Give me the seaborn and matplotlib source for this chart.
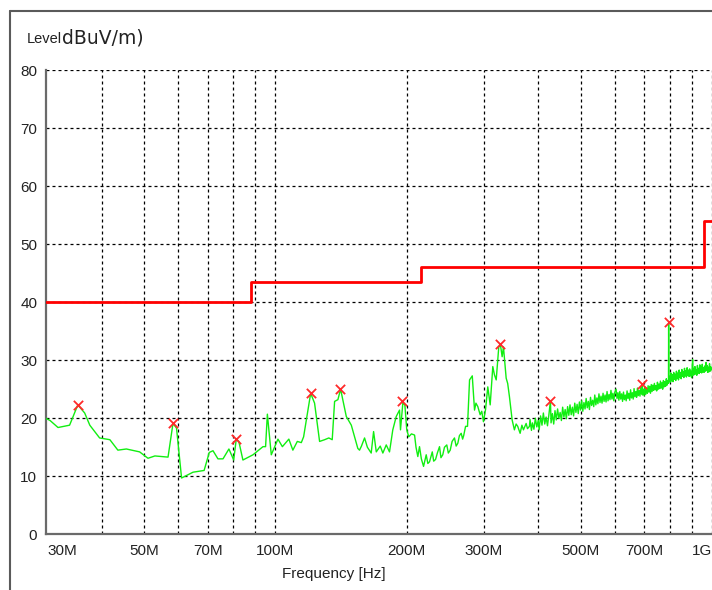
import matplotlib

matplotlib.use("Agg")
import matplotlib.pyplot as plt
import numpy as np
import pandas as pd
import seaborn as sns
from matplotlib.lines import Line2D
from matplotlib.ticker import NullLocator

trace_low = [
    (29.8, 20.0), (30.5, 19.6), (31.8, 18.4), (33.8, 18.8), (35.3, 22.3), (36.6, 20.9),
    (37.6, 18.8), (39.6, 16.6), (41.8, 16.3), (43.6, 14.5), (45.6, 14.7), (48.9, 14.2),
    (51.1, 13.1), (53.0, 13.5), (56.8, 13.3), (58.3, 19.1), (59.4, 18.3), (61.0, 9.7),
    (64.8, 10.7), (68.7, 11.0), (70.6, 14.1), (72.0, 14.4), (73.9, 13.0), (75.9, 13.0),
    (78.3, 14.7), (80.3, 12.8), (81.4, 16.4), (82.5, 16.0), (84.3, 12.8), (88.9, 13.7),
    (93.7, 15.1), (95.0, 15.1), (95.9, 20.7), (97.9, 13.7), (101.4, 16.4), (103.8, 15.1),
    (107.4, 16.4), (109.7, 14.5), (112.3, 16.0), (114.7, 15.8), (116.1, 16.8), (120.5, 24.3),
    (123.0, 22.6), (126.3, 16.0), (129.7, 16.3), (132.6, 16.6), (135.0, 16.3), (136.7, 22.9),
    (139.1, 23.2), (141.1, 25.0), (145.4, 20.3), (149.3, 18.8), (154.5, 14.8),
]
trace_mid = [
    (155.9, 14.5), (157.5, 15.2), (160.1, 16.6), (162.5, 15.0), (165.8, 14.0), (167.9, 17.7),
    (170.3, 14.2), (173.9, 15.2), (176.3, 14.0), (179.5, 15.4), (182.6, 14.2), (185.8, 18.0),
    (189.2, 20.3), (192.5, 21.4), (193.5, 18.0), (195.9, 22.6), (198.0, 22.3), (200.0, 18.0),
    (202.1, 16.8), (205.0, 17.3), (208.4, 17.1), (210.0, 15.0), (212.0, 13.4), (213.9, 15.1),
    (216.0, 13.0), (218.5, 11.7), (221.6, 13.7), (223.5, 12.2), (225.5, 12.5), (228.8, 14.2),
    (230.5, 12.6), (232.8, 12.9), (235.0, 14.0), (237.7, 15.1), (239.5, 13.2), (241.8, 13.7),
    (244.0, 15.0), (247.0, 15.4), (249.0, 14.0), (251.5, 14.5), (254.0, 16.0), (257.2, 16.6),
    (259.5, 15.2), (261.8, 15.7), (264.0, 17.0), (266.5, 17.4), (268.5, 16.4), (270.0, 17.0),
    (272.7, 18.6), (275.5, 18.6), (278.5, 26.6), (282.5, 27.3), (285.9, 21.4), (288.0, 22.6),
    (290.9, 22.0), (294.5, 20.6), (297.0, 21.2), (299.7, 19.4), (303.0, 21.5), (306.6, 25.4),
    (310.5, 22.3), (314.8, 28.9), (317.5, 27.5), (320.5, 26.6), (324.9, 32.3), (327.8, 32.6),
    (330.7, 30.6), (333.0, 32.3), (337.8, 26.9), (340.5, 26.0), (343.7, 23.7), (348.6, 19.7),
    (352.8, 18.0), (356.0, 19.0), (359.0, 18.6), (363.6, 17.4), (367.0, 18.8), (370.0, 18.0),
    (375.3, 19.1), (378.0, 18.2), (381.9, 18.6),
]
trace_high = [
    (383, 19.8), (386, 17.9), (388, 19.2), (391, 18.1), (394, 20.0), (397, 18.5), (400, 19.6),
    (402, 18.0), (405, 20.4), (408, 18.8), (411, 20.9), (414, 19.0), (417, 20.2), (420, 18.7),
    (423, 20.5), (426.6, 23.0), (428, 19.2), (431, 20.8), (434, 19.0), (437, 21.3), (440, 19.7),
    (443, 21.6), (446, 20.0), (449, 21.0), (452, 19.6), (455, 21.9), (458, 20.2), (461, 21.5),
    (464, 19.9), (467, 22.0), (470, 20.5), (473, 22.3), (476, 20.6), (479, 21.9), (482, 20.4),
    (485, 22.6), (488, 21.0), (491, 22.4), (494, 20.8), (497, 22.8), (500, 21.4), (503, 23.0),
    (506, 21.2), (509, 22.7), (512, 21.6), (515, 23.4), (518, 21.8), (521, 22.9), (524, 21.5),
    (527, 23.6), (530, 22.2), (533, 23.1), (536, 22.0), (539, 24.0), (542, 22.3), (545, 23.5),
    (548, 22.5), (551, 24.2), (554, 22.7), (557, 23.8), (560, 22.6), (563, 24.3), (566, 22.9),
    (569, 24.0), (572, 22.8), (575, 24.6), (578, 23.0), (581, 24.1), (584, 23.2), (587, 24.8),
    (590, 23.3), (593, 24.3), (596, 23.0), (599, 24.5), (603, 25.0), (606, 23.4), (609, 24.4),
    (612, 23.1), (615, 24.6), (618, 23.3), (621, 24.2), (624, 22.9), (627, 24.5), (630, 23.2),
    (633, 24.0), (636, 23.0), (639, 24.7), (642, 23.4), (645, 24.3), (648, 23.1), (651, 24.9),
    (654, 23.5), (657, 24.4), (660, 23.3), (663, 25.1), (666, 23.7), (669, 24.6), (672, 23.6),
    (675, 25.2), (678, 23.9), (681, 24.8), (684, 23.8), (687, 25.3), (690, 24.2), (691.8, 25.9),
    (693, 24.0), (696, 25.0), (699, 23.9), (702, 25.4), (705, 24.1), (708, 25.2), (711, 24.3),
    (714, 25.6), (717, 24.5), (720, 25.5), (723, 24.3), (726, 25.8), (729, 24.6), (732, 25.7),
    (735, 24.8), (738, 26.0), (741, 24.9), (744, 25.6), (747, 24.7), (750, 26.2), (753, 25.0),
    (756, 25.9), (759, 25.1), (762, 26.4), (765, 25.2), (768, 26.1), (771, 25.0), (774, 26.5),
    (777, 25.4), (780, 26.3), (783, 25.5), (786, 26.8), (789, 25.7), (792, 26.5), (795, 26.0),
    (795.6, 36.4), (796.5, 26.8), (799, 27.2), (802, 26.2), (805, 27.8), (808, 26.4),
    (811, 27.5), (814, 26.3), (817, 27.9), (820, 26.7), (823, 27.6), (826, 26.5), (829, 28.1),
    (832, 26.9), (835, 27.8), (838, 26.6), (841, 28.3), (844, 27.0), (847, 27.9), (850, 26.8),
    (853, 28.4), (856, 27.2), (859, 28.0), (862, 27.0), (865, 28.6), (868, 27.3), (871, 28.2),
    (874, 27.1), (877, 28.7), (880, 27.4), (883, 28.3), (886, 27.2), (889, 28.5), (892, 27.3),
    (895, 28.1), (898, 27.0), (901, 29.0), (902.9, 30.1), (905, 27.4), (908, 28.6), (911, 27.5),
    (914, 28.9), (917, 27.6), (920, 28.4), (923, 27.4), (926, 29.1), (929, 27.8), (932, 28.6),
    (935, 27.7), (938, 29.2), (941, 27.9), (944, 28.8), (947, 27.8), (950, 29.3), (953, 28.0),
    (956, 28.7), (959, 27.9), (962, 29.0), (965, 28.1), (968.9, 29.6), (972, 28.2), (975, 29.1),
    (978, 27.9), (981, 28.8), (984, 28.0), (987, 29.4), (990, 28.1), (993, 28.9), (996, 28.3),
    (999, 28.6),
]

# Grenzwertlinie (Stufen)
limit_freq = [29.8, 88, 216, 960, 1000]
limit_level = [40.0, 43.5, 46.0, 54.0, 54.0]

# Markierte Spitzen
peak_freq = [35.3, 58.3, 81.4, 120.5, 140.3, 195.0, 327.8, 426.6, 691.8, 795.6]
peak_level = [22.3, 19.1, 16.4, 24.3, 25.1, 23.0, 32.8, 23.0, 25.9, 36.6]

grid_freq = [30, 40, 50, 60, 70, 80, 90, 100, 200, 300, 400, 500, 600, 700, 800, 900, 1000]
tick_text = ["30M", "", "50M", "", "70M", "", "", "100M", "200M", "300M", "", "500M", "",
             "700M", "", "", "1G"]
y_ticks = [0, 10, 20, 30, 40, 50, 60, 70, 80]

sns.set_style("white")
plt.rcParams["font.family"] = ["Liberation Sans", "DejaVu Sans"]

fig = plt.figure(figsize=(7.12, 5.9), dpi=100)
ax = fig.add_axes([45.7 / 712, (590 - 534.3) / 590, (712 - 45.7) / 712, (534.3 - 70) / 590])

df = pd.DataFrame(trace_low + trace_mid + trace_high, columns=["freq", "level"])
sns.lineplot(data=df, x="freq", y="level", color="#11ee11", linewidth=1.0,
             sort=False, estimator=None, ax=ax, zorder=3)

lim = pd.DataFrame({"freq": limit_freq, "level": limit_level})
sns.lineplot(data=lim, x="freq", y="level", color="#ff0000", linewidth=2.0,
             drawstyle="steps-post", sort=False, estimator=None, ax=ax, zorder=4)

sns.scatterplot(x=peak_freq, y=peak_level, marker="x", color="#ff2a2a", s=45,
                linewidth=1.3, ax=ax, zorder=5)

ax.set_xscale("log")
ax.set_xlim(29.8, 1000)
ax.set_ylim(0, 80)
ax.set_xticks(grid_freq)
ax.set_xticklabels(tick_text)
ax.xaxis.set_minor_locator(NullLocator())
ax.set_yticks(y_ticks)
ax.set_ylabel("")
ax.set_xlabel("")

ax.set_axisbelow(True)
ax.grid(True, color="black", linestyle=(0, (2.4, 2.4)), linewidth=0.9)
ax.xaxis.get_gridlines()[0].set_visible(False)
ax.tick_params(length=0, labelsize=11, colors="#222222")
ax.tick_params(axis="x", pad=7)
ax.tick_params(axis="y", pad=6)

labels = ax.get_xticklabels()
labels[0].set_ha("left")
labels[-1].set_ha("right")

for side in ["top", "right"]:
    ax.spines[side].set_visible(False)
for side in ["left", "bottom"]:
    ax.spines[side].set_color("#6a6a6a")
    ax.spines[side].set_linewidth(1.6)

fig.text(333.5 / 712, 1 - 574 / 590, "Frequency [Hz]", fontsize=11, ha="center",
         va="center", color="#222222")
fig.text(27 / 712, 1 - 39 / 590, "Level", fontsize=10.5, ha="left", va="center",
         color="#222222")
fig.text(62 / 712, 1 - 38.5 / 590, "dBuV/m)", fontsize=13.5, ha="left", va="center",
         color="#222222", family=["DejaVu Sans"])

# aeusserer Rahmen
fig.add_artist(Line2D([10 / 712, 1], [1 - 11 / 590, 1 - 11 / 590],
                      transform=fig.transFigure, color="#5a5a5a", linewidth=1.5))
fig.add_artist(Line2D([10 / 712, 10 / 712], [0, 1 - 11 / 590],
                      transform=fig.transFigure, color="#5a5a5a", linewidth=1.5))

fig.savefig("out.png", dpi=100)
